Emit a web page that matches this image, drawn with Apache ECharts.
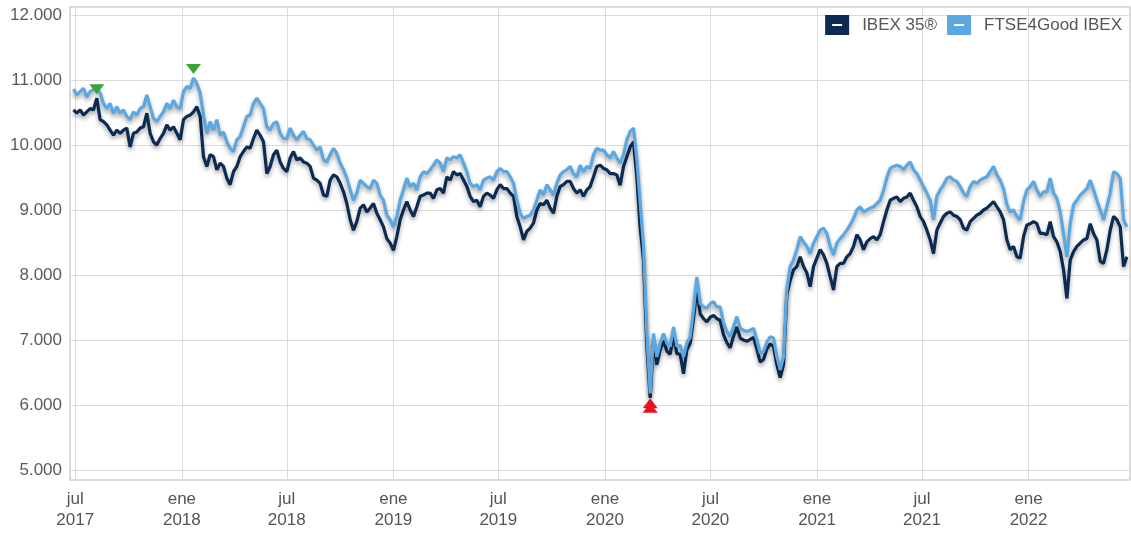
<!DOCTYPE html>
<html>
<head>
<meta charset="utf-8">
<script src="https://cdn.jsdelivr.net/npm/echarts@6/dist/echarts.min.js"></script>
<style>
  html, body { margin: 0; padding: 0; background: #ffffff; }
  #chart { width: 1131px; height: 535px; }
</style>
</head>
<body>
<div id="chart"></div>
<script>
// Índices IBEX 35® y FTSE4Good IBEX, cierres muestreados cada ~5,75 días
const seriesNames = ['IBEX 35®', 'FTSE4Good IBEX'];
const firstSampleDate = '2017-06-28';
const sampleStepDays = 5.752;

const ibex35 = [
  10540, 10490, 10540, 10460, 10510, 10560, 10540, 10720, 10390, 10360, 10310, 10230, 10150, 10230, 10180, 10230, 10260, 9970,
  10180, 10200, 10260, 10280, 10490, 10180, 10050, 10000, 10100, 10180, 10310, 10230, 10280, 10180, 10080, 10390, 10440, 10460,
  10510, 10590, 10440, 9820, 9670, 9850, 9820, 9620, 9720, 9670, 9490, 9390, 9590, 9670, 9820, 9900, 9970, 9950,
  10100, 10230, 10150, 10050, 9560, 9670, 9850, 9920, 9740, 9640, 9590, 9800, 9900, 9770, 9800, 9740, 9720, 9670,
  9490, 9460, 9410, 9230, 9210, 9460, 9540, 9510, 9410, 9280, 9100, 8850, 8690, 8820, 9030, 9080, 8970, 9030,
  9100, 8950, 8850, 8740, 8560, 8490, 8380, 8590, 8850, 9000, 9130, 9000, 8900, 9050, 9210, 9230, 9260, 9260,
  9180, 9310, 9330, 9260, 9510, 9460, 9590, 9540, 9560, 9460, 9360, 9210, 9130, 9150, 9050, 9210, 9260, 9230,
  9180, 9310, 9390, 9330, 9330, 9260, 9210, 8900, 8740, 8540, 8670, 8720, 8800, 9000, 9100, 9080, 9150, 9030,
  8950, 9210, 9360, 9390, 9440, 9440, 9330, 9260, 9310, 9210, 9310, 9360, 9510, 9670, 9690, 9640, 9620, 9560,
  9560, 9540, 9380, 9670, 9820, 9970, 10050, 9510, 8720, 8230, 6900, 6110,
  7000, 6620, 6850, 6990, 6830, 6780, 7080, 6790, 6780, 6480, 6850, 6950, 7330, 7800, 7400, 7330, 7280, 7350,
  7380, 7330, 7300, 7080, 6960, 6880, 7060, 7200, 7030, 7000, 6980, 7010, 7040, 6860, 6660, 6700, 6860, 6940,
  6900, 6620, 6420, 6620, 7700,
  7920, 8080, 8130, 8280, 8130, 8030, 7820, 8130, 8260, 8390, 8310, 8180, 7970, 7770, 8130, 8180, 8180, 8280,
  8330, 8440, 8620, 8540, 8390, 8510, 8560, 8590, 8540,
  8620, 8820, 9000, 9150, 9180, 9200, 9130, 9180, 9200, 9260, 9150, 9050, 8900, 8820, 8690, 8540, 8330, 8690,
  8800, 8900, 8950, 8970, 8920, 8900, 8850, 8720, 8690, 8820, 8870, 8920, 8950, 9000, 9030, 9080, 9130, 9050,
  8970, 8850, 8540, 8390, 8440, 8280, 8260, 8590, 8770,
  8790, 8820, 8790, 8640, 8640, 8620, 8820, 8590, 8510, 8360, 8080, 7640, 8230, 8360, 8440, 8490, 8540, 8560,
  8790, 8640, 8540, 8210, 8180, 8390, 8690, 8900, 8850, 8740, 8130, 8280
];

const ftse4good = [
  10860, 10770, 10820, 10870, 10740, 10820, 10850, 10870, 10800, 10640, 10560, 10640, 10490, 10590, 10490, 10540, 10440, 10390,
  10510, 10460, 10560, 10590, 10770, 10590, 10410, 10360, 10440, 10510, 10640, 10560, 10690, 10590, 10560, 10820, 10900, 10870,
  11030, 10950, 10800, 10460, 10180, 10360, 10230, 10390, 10150, 10200, 10050, 9950, 9900, 10080, 10130, 10280, 10440, 10460,
  10640, 10720, 10640, 10560, 10280, 10230, 10330, 10360, 10180, 10100, 10100, 10260, 10150, 10080, 10150, 10210, 10100, 10080,
  10000, 9920, 9970, 9770, 9740, 9850, 9950, 9870, 9720, 9620, 9490, 9310, 9150, 9260, 9460, 9410, 9360, 9330,
  9460, 9410, 9230, 9150, 8920, 8850, 8740, 8900, 9150, 9310, 9490, 9360, 9410, 9310, 9510, 9590, 9560, 9620,
  9690, 9770, 9720, 9590, 9800, 9770, 9820, 9800, 9850, 9720, 9590, 9410, 9360, 9390, 9310, 9460, 9490, 9510,
  9460, 9590, 9640, 9590, 9590, 9510, 9410, 9150, 8950, 8870, 8900, 8920, 9000, 9150, 9310, 9230, 9390, 9310,
  9230, 9410, 9540, 9590, 9620, 9670, 9560, 9510, 9690, 9590, 9670, 9640, 9850, 9950, 9920, 9920, 9850, 9800,
  9900, 9800, 9720, 9850, 10080, 10210, 10260, 9770, 9100, 8440, 7100, 6180,
  7100, 6740, 6950, 7100, 6950, 6900, 7200, 6900, 6920, 6740, 6950, 7050, 7460, 7970, 7560, 7510, 7490, 7560,
  7590, 7510, 7510, 7260, 7130, 7050, 7200, 7360, 7180, 7150, 7130, 7150, 7180, 7000, 6800, 6820, 6970, 7050,
  7030, 6740, 6540, 6740, 7770,
  8130, 8230, 8390, 8590, 8510, 8440, 8330, 8490, 8590, 8690, 8720, 8640, 8440, 8310, 8490, 8560, 8620, 8690,
  8770, 8870, 9000, 9050, 8970, 9000, 9030, 9050, 9100,
  9150, 9300, 9500, 9640, 9670, 9690, 9670, 9620, 9690, 9740, 9620, 9560, 9460, 9360, 9260, 9150, 8850, 9210,
  9310, 9390, 9490, 9510, 9460, 9440, 9360, 9260, 9210, 9360, 9440, 9410, 9460, 9490, 9510, 9590, 9670, 9540,
  9460, 9330, 9080, 8970, 9000, 8900, 8850, 9130, 9310,
  9360, 9440, 9310, 9210, 9280, 9280, 9490, 9260, 9180, 8970, 8640, 8280, 8790, 9080, 9150, 9230, 9280, 9330,
  9460, 9310, 9150, 9000, 8850, 9050, 9260, 9590, 9560, 9490, 8850, 8740
];

// Eje temporal y marcas del eje X
const axisStart = '2017-06-22';
const axisEnd = '2022-06-25';
const axisLabelDates = [
  '2017-07-01', '2018-01-01', '2018-07-01', '2019-01-01', '2019-07-01',
  '2020-01-01', '2020-07-01', '2021-01-01', '2021-07-01', '2022-01-01'
];
const monthAbbr = ['ene', 'feb', 'mar', 'abr', 'may', 'jun', 'jul', 'ago', 'sep', 'oct', 'nov', 'dic'];

// Eje Y
const yMin = 5000;
const yMax = 12000;
const yStep = 1000;

const DAY = 86400000;
const t0 = new Date(firstSampleDate).getTime();
const sampleTimes = ibex35.map((_, i) => Math.round(t0 + i * sampleStepDays * DAY));
const toPairs = vals => vals.map((v, i) => [sampleTimes[i], v]);
const labelTimes = axisLabelDates.map(d => new Date(d).getTime());
const xMin = new Date(axisStart).getTime();
const xMax = new Date(axisEnd).getTime();

const thousands = v => String(v).replace(/\B(?=(\d{3})+(?!\d))/g, '.');
const monthYear = v => {
  const d = new Date(v);
  return monthAbbr[d.getUTCMonth()] + '\n' + d.getUTCFullYear();
};

const FONT = "'Liberation Sans', Arial, sans-serif";
const COLOR_IBEX = '#0c2b52';
const COLOR_FTSE = '#5aa7e2';
// Icono de leyenda: cuadrado con un guion en blanco
const legendIcon = 'path://M0,0H24V20H0Z M7,9V11H17V9Z';

function markPoints() {
  return {
    symbol: 'triangle',
    symbolSize: [15, 10],
    label: { show: false },
    data: [
      { type: 'max', symbolRotate: 180, symbolOffset: [0, -9], itemStyle: { color: '#3aa534' } },
      { type: 'min', symbolOffset: [0, 10], itemStyle: { color: '#e8141c' } }
    ]
  };
}

function lineSeries(name, values, color, z) {
  return {
    name: name,
    type: 'line',
    xAxisIndex: 0,
    yAxisIndex: 0,
    data: toPairs(values),
    showSymbol: false,
    symbol: 'none',
    z: z,
    lineStyle: {
      color: color,
      width: 3.2,
      shadowColor: 'rgba(0,0,0,0.35)',
      shadowBlur: 4,
      shadowOffsetY: 3
    },
    itemStyle: { color: color },
    markPoint: markPoints()
  };
}

const chart = echarts.init(document.getElementById('chart'), null, { renderer: 'canvas' });
chart.setOption({
  animation: false,
  backgroundColor: '#ffffff',
  textStyle: { fontFamily: FONT },
  legend: {
    data: seriesNames.map(n => ({ name: n, icon: legendIcon })),
    right: 9,
    top: 15,
    padding: 0,
    itemWidth: 24,
    itemHeight: 20,
    itemGap: 10,
    textStyle: { fontSize: 17, color: '#555555', fontFamily: FONT, padding: [0, 0, 0, 8] }
  },
  grid: [
    { left: 70, right: 1, top: 15, bottom: 65, show: false },
    { left: 70, right: 1, top: 7, bottom: 55, show: true, borderColor: '#cfcfcf', borderWidth: 1.5, backgroundColor: 'transparent' }
  ],
  xAxis: [
    { gridIndex: 0, type: 'value', min: xMin, max: xMax, show: false },
    {
      gridIndex: 1, type: 'value', min: xMin, max: xMax, position: 'bottom',
      axisLine: { show: false },
      axisTick: { show: false, customValues: labelTimes },
      splitLine: { show: true, lineStyle: { color: '#dcdcdc', width: 1 } },
      axisLabel: {
        customValues: labelTimes,
        formatter: monthYear,
        fontSize: 17,
        lineHeight: 21,
        color: '#555555',
        margin: 9,
        fontFamily: FONT,
        showMinLabel: true,
        showMaxLabel: true
      }
    }
  ],
  yAxis: [
    {
      gridIndex: 0, type: 'value', min: yMin, max: yMax, interval: yStep,
      axisLine: { show: false },
      axisTick: { show: false },
      splitLine: { show: true, lineStyle: { color: '#dcdcdc', width: 1 } },
      axisLabel: { formatter: thousands, fontSize: 17, color: '#5a5a5a', margin: 8, fontFamily: FONT }
    },
    { gridIndex: 1, type: 'value', show: false, splitLine: { show: false } }
  ],
  series: [
    lineSeries(seriesNames[0], ibex35, COLOR_IBEX, 2),
    lineSeries(seriesNames[1], ftse4good, COLOR_FTSE, 3)
  ]
});
</script>
</body>
</html>
